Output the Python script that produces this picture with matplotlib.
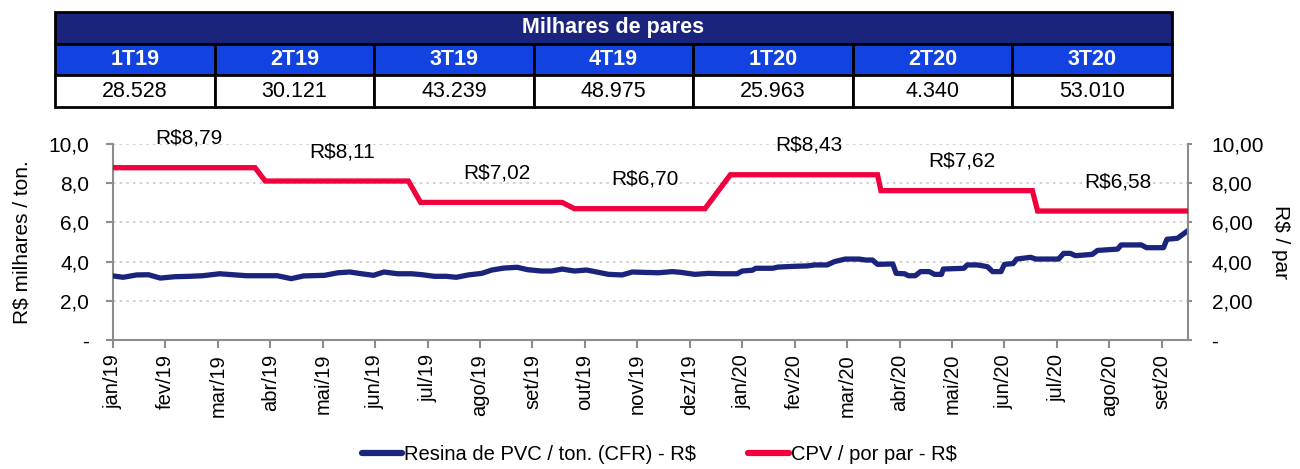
import matplotlib
matplotlib.use('Agg')
import matplotlib.pyplot as plt
import pandas as pd
from matplotlib.patches import Rectangle
from matplotlib.lines import Line2D

plt.rcParams['font.family'] = ['Liberation Sans', 'DejaVu Sans']

# table data
trimestres = ['1T19', '2T19', '3T19', '4T19', '1T20', '2T20', '3T20']
milhares_pares = [28528, 30121, 43239, 48975, 25963, 4340, 53010]

# x axis months
meses = ['jan/19', 'fev/19', 'mar/19', 'abr/19', 'mai/19', 'jun/19', 'jul/19',
         'ago/19', 'set/19', 'out/19', 'nov/19', 'dez/19', 'jan/20', 'fev/20',
         'mar/20', 'abr/20', 'mai/20', 'jun/20', 'jul/20', 'ago/20', 'set/20']

# Resina de PVC / ton. (CFR) - R$ mil
resina_datas = [
    '2019-01-01', '2019-01-07', '2019-01-15', '2019-01-22', '2019-01-29', '2019-02-06',
    '2019-02-14', '2019-02-21', '2019-03-02', '2019-03-10', '2019-03-18', '2019-03-28',
    '2019-04-05', '2019-04-13', '2019-04-20', '2019-05-02', '2019-05-10', '2019-05-17',
    '2019-05-24', '2019-05-31', '2019-06-06', '2019-06-14', '2019-06-22', '2019-06-28',
    '2019-07-05', '2019-07-12', '2019-07-18', '2019-07-25', '2019-08-02', '2019-08-08',
    '2019-08-15', '2019-08-23', '2019-08-29', '2019-09-06', '2019-09-12', '2019-09-18',
    '2019-09-25', '2019-10-02', '2019-10-08', '2019-10-15', '2019-10-23', '2019-10-29',
    '2019-11-05', '2019-11-13', '2019-11-21', '2019-11-26', '2019-12-04', '2019-12-12',
    '2019-12-20', '2019-12-29', '2020-01-01', '2020-01-07', '2020-01-09', '2020-01-19',
    '2020-01-22', '2020-02-01', '2020-02-08', '2020-02-12', '2020-02-19', '2020-02-23',
    '2020-02-29', '2020-03-08', '2020-03-12', '2020-03-16', '2020-03-19', '2020-03-28',
    '2020-03-30', '2020-04-04', '2020-04-06', '2020-04-10', '2020-04-13', '2020-04-18',
    '2020-04-21', '2020-04-25', '2020-04-26', '2020-05-08', '2020-05-10', '2020-05-16',
    '2020-05-22', '2020-05-25', '2020-05-30', '2020-06-01', '2020-06-06', '2020-06-08',
    '2020-06-16', '2020-06-19', '2020-07-02', '2020-07-05', '2020-07-09', '2020-07-12',
    '2020-07-22', '2020-07-25', '2020-08-01', '2020-08-06', '2020-08-08', '2020-08-20',
    '2020-08-23', '2020-09-02', '2020-09-04', '2020-09-10', '2020-09-16']
resina_valores = [
    3.27, 3.20, 3.32, 3.33, 3.16, 3.23,
    3.25, 3.28, 3.38, 3.33, 3.28, 3.28,
    3.28, 3.13, 3.27, 3.30, 3.43, 3.47,
    3.38, 3.30, 3.47, 3.38, 3.38, 3.33,
    3.25, 3.25, 3.20, 3.32, 3.40, 3.57,
    3.67, 3.71, 3.59, 3.52, 3.52, 3.62,
    3.52, 3.57, 3.47, 3.35, 3.32, 3.47,
    3.45, 3.43, 3.49, 3.45, 3.35, 3.40,
    3.38, 3.38, 3.52, 3.56, 3.66, 3.66,
    3.72, 3.76, 3.78, 3.83, 3.83, 4.00,
    4.13, 4.13, 4.08, 4.08, 3.86, 3.88,
    3.40, 3.38, 3.28, 3.28, 3.49, 3.49,
    3.35, 3.35, 3.62, 3.66, 3.83, 3.83,
    3.74, 3.49, 3.49, 3.86, 3.90, 4.13,
    4.22, 4.13, 4.13, 4.42, 4.42, 4.30,
    4.37, 4.57, 4.61, 4.64, 4.85, 4.85,
    4.71, 4.71, 5.14, 5.19, 5.58]

# CPV / por par - R$ (one value per quarter)
cpv_valores = [8.79, 8.11, 7.02, 6.70, 8.43, 7.62, 6.58]
cpv_inicio = ['2019-01-01', '2019-03-29', '2019-06-27', '2019-09-25',
              '2019-12-25', '2020-03-21', '2020-06-20']
cpv_fim = ['2019-03-23', '2019-06-20', '2019-09-18', '2019-12-10',
           '2020-03-19', '2020-06-17', '2020-09-16']


def month_pos(s):
    d = pd.Timestamp(s)
    return (d.year - 2019) * 12 + d.month - 1 + (d.day - 1) / d.days_in_month


def br(v, dec):
    return f'{v:,.{dec}f}'.replace(',', 'X').replace('.', ',').replace('X', '.')


navy = '#1B247C'
blue_hdr = '#1243E0'
red = '#F0003C'
gray = '#8C8C8C'

fig = plt.figure(figsize=(13, 4.69), dpi=100)

# ---- table on top ----
tax = fig.add_axes([0.0423, 0.772, 0.8592, 0.2026])
tax.set_xlim(0, len(trimestres))
tax.set_ylim(0, 3)
tax.axis('off')
tax.add_patch(Rectangle((0, 2), len(trimestres), 1, fc=navy, ec='black', lw=2, clip_on=False))
tax.text(len(trimestres) / 2, 2.5, 'Milhares de pares', color='white', fontsize=15.5,
         fontweight='bold', ha='center', va='center')
for i, (t, v) in enumerate(zip(trimestres, milhares_pares)):
    tax.add_patch(Rectangle((i, 1), 1, 1, fc=blue_hdr, ec='black', lw=2, clip_on=False))
    tax.add_patch(Rectangle((i, 0), 1, 1, fc='white', ec='black', lw=2, clip_on=False))
    tax.text(i + 0.5, 1.5, t, color='white', fontsize=15.5, fontweight='bold',
             ha='center', va='center')
    tax.text(i + 0.5, 0.5, br(v, 0), color='black', fontsize=15.5, ha='center', va='center')

# ---- line chart ----
ax = fig.add_axes([0.0869, 0.275, 0.8269, 0.418])
ax2 = ax.twinx()

xr = [month_pos(d) for d in resina_datas]
ax.plot(xr, resina_valores, color=navy, lw=3.8, solid_joinstyle='round', zorder=3)

xc, yc = [], []
for a, b, v in zip(cpv_inicio, cpv_fim, cpv_valores):
    xc += [month_pos(a), month_pos(b)]
    yc += [v, v]
ax2.plot(xc, yc, color=red, lw=3.8, solid_joinstyle='miter', zorder=3)

for a, b, v in zip(cpv_inicio, cpv_fim, cpv_valores):
    xm = (month_pos(a) + month_pos(b)) / 2 + 0.1
    ax2.text(xm, v + 1.5, 'R$' + br(v, 2), fontsize=15, ha='center', va='center',
             clip_on=False)

for a in (ax, ax2):
    a.set_ylim(0, 10)
    a.set_xlim(0, xr[-1])
    a.set_yticks(range(0, 11, 2))

ax.grid(axis='y', color='#C8C8C8', linestyle=(0, (1.5, 2.5)), lw=1.2)
ax.set_axisbelow(True)
ax.set_xticks(range(len(meses)))
ax.set_xticklabels(meses, rotation=90, fontsize=14.5)
ax.set_yticklabels(['-' if v == 0 else br(v, 1) for v in range(0, 11, 2)], fontsize=15)
ax2.set_yticklabels(['-' if v == 0 else br(v, 2) for v in range(0, 11, 2)], fontsize=15)

for s in ['top', 'right']:
    ax.spines[s].set_visible(False)
for s in ['top', 'left', 'bottom']:
    ax2.spines[s].set_visible(False)
for s in ['left', 'bottom']:
    ax.spines[s].set_color(gray)
    ax.spines[s].set_linewidth(1.5)
ax2.spines['right'].set_color(gray)
ax2.spines['right'].set_linewidth(1.5)
ax.tick_params(axis='y', color=gray, width=1.5, length=5, pad=12)
ax.tick_params(axis='x', color=gray, width=1.5, length=6, pad=4)
ax2.tick_params(axis='y', color=gray, width=1.5, length=3, pad=14)

ax.set_ylabel('R$ milhares / ton.', fontsize=15, labelpad=12)
ax2.set_ylabel('R$ / par', fontsize=15, rotation=-90, labelpad=19)

handles = [Line2D([], [], color=navy, lw=4.5, solid_capstyle='round'),
           Line2D([], [], color=red, lw=4.5, solid_capstyle='round')]
fig.legend(handles, ['Resina de PVC / ton. (CFR) - R$', 'CPV / por par - R$'],
           loc='center', bbox_to_anchor=(0.507, 0.03), ncol=2, frameon=False,
           fontsize=14.5, handlelength=2.0, handletextpad=0.1, columnspacing=2.6)

fig.savefig('out.png', dpi=100)
